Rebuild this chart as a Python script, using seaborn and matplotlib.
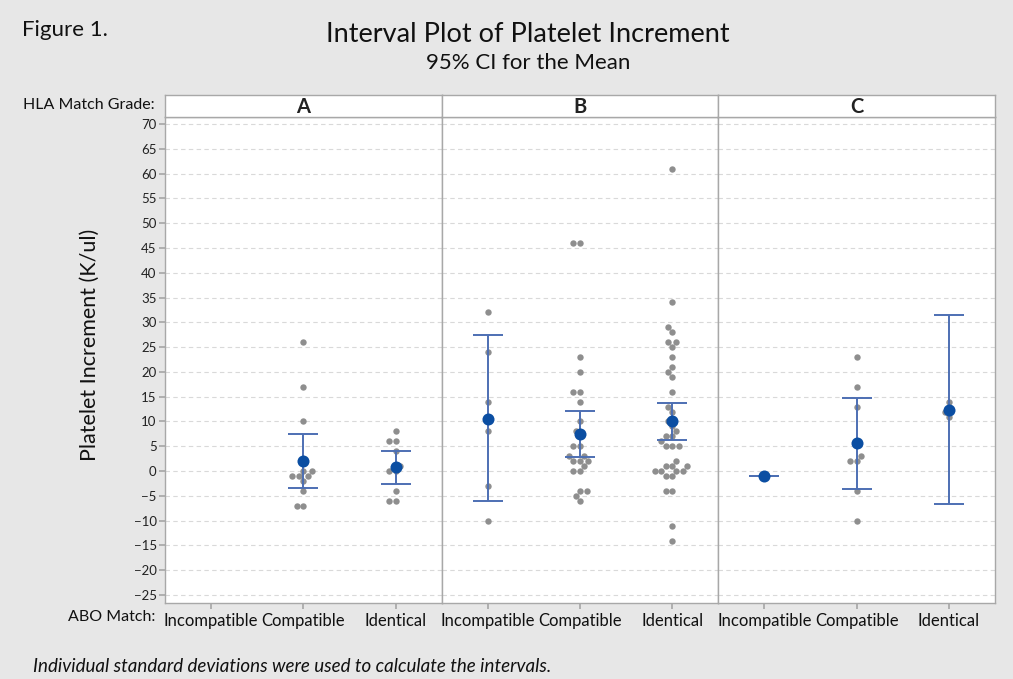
import numpy as np
import pandas as pd
import matplotlib
matplotlib.use("Agg")
import matplotlib.pyplot as plt
import seaborn as sns

# ---------------- data ----------------
grades = ["A", "B", "C"]
abo_levels = ["Incompatible", "Compatible", "Identical"]

A_incompatible = []
A_compatible = [26, 17, 10, 0, 0, -1, -1, -1, -2, -4, -7, -7]
A_identical = [8, 6, 6, 4, 1, 0, 0, -4, -6, -6]

B_incompatible = [32, 24, 14, 8, -3, -10]
B_compatible = [46, 46, 23, 20, 16, 16, 14, 10, 8, 7, 5, 5, 3, 3, 2, 2, 2, 1, 0, 0,
                -4, -4, -5, -6]
B_identical = [61, 34, 29, 28, 26, 26, 25, 23, 21, 20, 19, 16, 13, 12, 10, 9, 8, 7, 7,
               6, 5, 5, 5, 2, 1, 1, 1, 0, 0, 0, 0, -1, -1, -4, -4, -11, -14]

C_incompatible = [-1]
C_compatible = [23, 17, 13, 3, 2, 2, -4, -10]
C_identical = [14, 12, 11]

# means and 95% CI, per grade in abo order (None = no group)
means = {"A": [None, 2.0, 0.8], "B": [10.6, 7.5, 10.1], "C": [-1.0, 5.6, 12.3]}
ci_low = {"A": [None, -3.4, -2.6], "B": [-6.0, 2.9, 6.3], "C": [-1.0, -3.7, -6.7]}
ci_high = {"A": [None, 7.4, 4.0], "B": [27.4, 12.1, 13.8], "C": [-1.0, 14.8, 31.4]}

y_ticks = list(range(-25, 71, 5))

groups = {
    ("A", "Incompatible"): A_incompatible, ("A", "Compatible"): A_compatible,
    ("A", "Identical"): A_identical,
    ("B", "Incompatible"): B_incompatible, ("B", "Compatible"): B_compatible,
    ("B", "Identical"): B_identical,
    ("C", "Incompatible"): C_incompatible, ("C", "Compatible"): C_compatible,
    ("C", "Identical"): C_identical,
}
rows = []
for (g, a), vals in groups.items():
    for v in vals:
        rows.append({"grade": g, "abo": a, "value": v})
df = pd.DataFrame(rows)

# ---------------- style ----------------
sns.set_theme(style="white")
plt.rcParams["font.family"] = ["Lato", "DejaVu Sans"]

BG = "#e7e7e7"
GRAY_PT = "#8e8e8e"
MEAN_C = "#0b4ea2"
CI_C = "#4d6fb3"
BORDER = "#a8a8a8"

fig = plt.figure(figsize=(10.13, 6.79), dpi=100, facecolor=BG)

W, H = 1013.0, 679.0
left_px, right_px = 165, 995
top_px, bot_px = 117, 603
hdr_top = 95
panel_w = (right_px - left_px) / 3.0

axes = []
for i, g in enumerate(grades):
    x0 = (left_px + i * panel_w) / W
    ax = fig.add_axes([x0, 1 - bot_px / H, panel_w / W, (bot_px - top_px) / H])
    axes.append(ax)
    hax = fig.add_axes([x0, 1 - top_px / H, panel_w / W, (top_px - hdr_top) / H])
    hax.set_xticks([]); hax.set_yticks([])
    hax.set_facecolor("white")
    for s in hax.spines.values():
        s.set_color(BORDER); s.set_linewidth(1.0)
    hax.text(0.5, 0.45, g, ha="center", va="center", fontsize=14.5,
             fontweight="bold", color="#222222", transform=hax.transAxes)

for i, (g, ax) in enumerate(zip(grades, axes)):
    ax.set_facecolor("white")
    sub = df[df["grade"] == g]
    sns.swarmplot(data=sub, x="abo", y="value", order=abo_levels, ax=ax,
                  color=GRAY_PT, size=4.6, linewidth=0, zorder=2)
    pos, m, lo, hi = [], [], [], []
    for j, a in enumerate(abo_levels):
        if means[g][j] is None:
            continue
        pos.append(j); m.append(means[g][j]); lo.append(ci_low[g][j]); hi.append(ci_high[g][j])
    m = np.array(m); lo = np.array(lo); hi = np.array(hi)
    ax.errorbar(pos, m, yerr=[m - lo, hi - m], fmt="none", ecolor=CI_C,
                elinewidth=1.4, capsize=11, capthick=1.4, zorder=3)
    ax.scatter(pos, m, s=75, color=MEAN_C, zorder=4, linewidths=0)

    ax.set_xlim(-0.5, 2.5)
    ax.set_ylim(-26.6, 71.4)
    ax.set_yticks(y_ticks)
    ax.yaxis.grid(True, linestyle=(0, (4, 3)), color="#d9d9d9", linewidth=0.8)
    ax.xaxis.grid(False)
    ax.set_axisbelow(True)
    ax.set_xlabel("")
    ax.set_ylabel("")
    for s in ax.spines.values():
        s.set_color(BORDER); s.set_linewidth(1.0)
    ax.tick_params(axis="x", bottom=True, length=4, color=BORDER, labelsize=12,
                   labelcolor="#111111", pad=3)
    if i == 0:
        ax.tick_params(axis="y", left=True, length=4, color=BORDER, labelsize=9.5,
                       labelcolor="#222222", pad=2)
    else:
        ax.tick_params(axis="y", left=False, labelleft=False)
    ax.set_xticks(range(3))
    ax.set_xticklabels(abo_levels)

# ---------------- texts ----------------
fig.text(22 / W, 1 - 30 / H, "Figure 1.", fontsize=16, color="#111111",
         ha="left", va="center")
fig.text(528 / W, 1 - 35 / H, "Interval Plot of Platelet Increment", fontsize=19.5,
         color="#111111", ha="center", va="center")
fig.text(528 / W, 1 - 63 / H, "95% CI for the Mean", fontsize=16,
         color="#111111", ha="center", va="center")
fig.text(155 / W, 1 - 105 / H, "HLA Match Grade:", fontsize=11.5, color="#111111",
         ha="right", va="center")
fig.text(155 / W, 1 - 617 / H, "ABO Match:", fontsize=11.5, color="#111111",
         ha="right", va="center")
fig.text(90 / W, 1 - 345 / H, "Platelet Increment (K/ul)", fontsize=15.5,
         color="#111111", ha="center", va="center", rotation=90)
fig.text(33 / W, 1 - 666 / H,
         "Individual standard deviations were used to calculate the intervals.",
         fontsize=13.5, style="italic", color="#111111", ha="left", va="center")

fig.savefig("out.png", dpi=100, facecolor=BG)
